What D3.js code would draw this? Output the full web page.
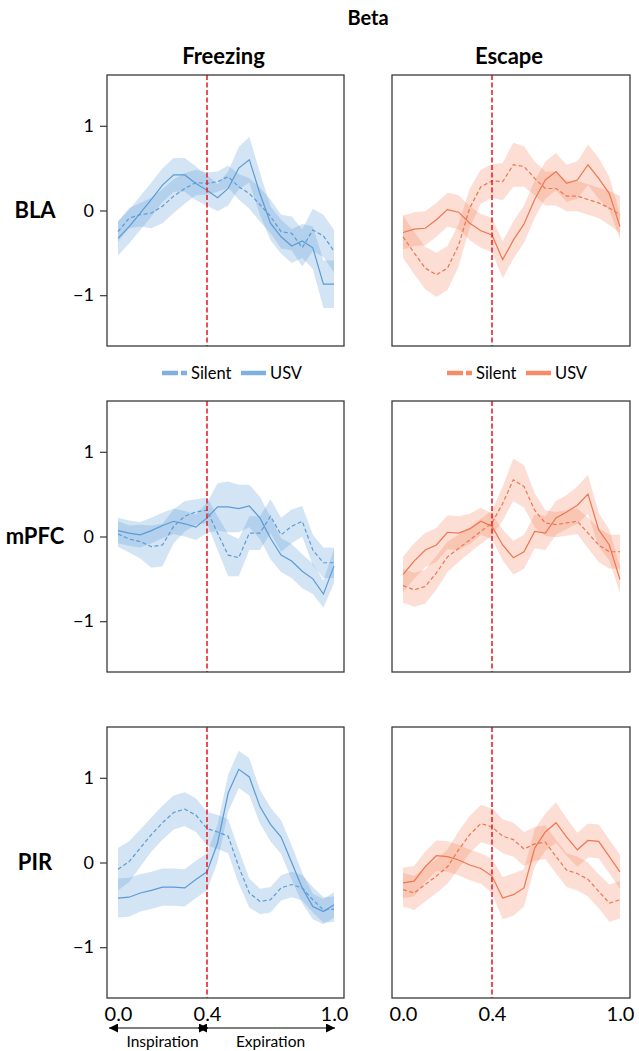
<!DOCTYPE html>
<html>
<head>
<meta charset="utf-8">
<script src="https://cdn.jsdelivr.net/npm/d3@7"></script>
<style>
  body { margin: 0; background: #fff; }
  text { font-family: Lato, "Open Sans", sans-serif; fill: #000; }
</style>
</head>
<body>
<div id="chart"></div>
<script>
// phase of the breathing cycle (0 = inspiration onset, 0.4 = expiration onset)
const phase = [0, 0.05, 0.1, 0.15, 0.2, 0.25, 0.3, 0.35, 0.4, 0.45, 0.5, 0.55, 0.6, 0.65, 0.7, 0.75, 0.8, 0.85, 0.9, 0.95, 1]
const regions = ['BLA', 'mPFC', 'PIR']
const behaviors = ['Freezing', 'Escape']
const groups = ['Silent', 'USV']
const xTicks = [0, 0.4, 1]
const yTicks = [-1, 0, 1]

// BLA
const blaFreezingSilent = [-0.25, -0.09, -0.05, -0.03, 0.05, 0.17, 0.26, 0.33, 0.32, 0.34, 0.40, 0.28, 0.20, 0.07, -0.07, -0.25, -0.27, -0.44, -0.23, -0.30, -0.48]
const blaFreezingSilentSem = [0.12, 0.12, 0.14, 0.18, 0.2, 0.2, 0.18, 0.15, 0.13, 0.12, 0.13, 0.15, 0.18, 0.2, 0.2, 0.2, 0.2, 0.22, 0.25, 0.25, 0.25]
const blaFreezingUsv = [-0.33, -0.19, -0.03, 0.13, 0.30, 0.42, 0.42, 0.32, 0.24, 0.15, 0.26, 0.50, 0.60, 0.20, -0.15, -0.31, -0.42, -0.36, -0.44, -0.87, -0.87]
const blaFreezingUsvSem = [0.2, 0.2, 0.2, 0.2, 0.2, 0.2, 0.2, 0.2, 0.18, 0.16, 0.2, 0.25, 0.27, 0.25, 0.2, 0.2, 0.2, 0.2, 0.25, 0.28, 0.28]
const blaEscapeSilent = [-0.31, -0.50, -0.68, -0.76, -0.68, -0.41, 0.03, 0.28, 0.35, 0.34, 0.54, 0.52, 0.38, 0.26, 0.26, 0.17, 0.17, 0.13, 0.09, 0.03, -0.05]
const blaEscapeSilentSem = [0.25, 0.25, 0.25, 0.26, 0.26, 0.25, 0.23, 0.2, 0.2, 0.22, 0.26, 0.24, 0.2, 0.2, 0.2, 0.18, 0.18, 0.18, 0.18, 0.2, 0.22]
const blaEscapeUsv = [-0.26, -0.22, -0.21, -0.11, 0.01, -0.02, -0.15, -0.24, -0.29, -0.58, -0.35, -0.16, 0.13, 0.36, 0.46, 0.32, 0.36, 0.54, 0.38, 0.20, -0.19]
const blaEscapeUsvSem = [0.2, 0.2, 0.2, 0.2, 0.2, 0.2, 0.2, 0.2, 0.2, 0.22, 0.22, 0.22, 0.22, 0.22, 0.22, 0.22, 0.22, 0.24, 0.24, 0.2, 0.15]

// mPFC
const mpfcFreezingSilent = [0.03, -0.03, -0.06, -0.12, -0.10, 0.12, 0.24, 0.29, 0.31, 0.04, -0.22, -0.25, 0.04, 0.04, 0.24, 0.02, 0.12, 0.18, -0.16, -0.31, -0.31]
const mpfcFreezingSilentSem = [0.15, 0.16, 0.2, 0.25, 0.25, 0.2, 0.18, 0.15, 0.15, 0.2, 0.25, 0.22, 0.2, 0.2, 0.2, 0.2, 0.2, 0.18, 0.18, 0.18, 0.18]
const mpfcFreezingUsv = [0.07, 0.04, 0.02, 0.07, 0.13, 0.18, 0.15, 0.11, 0.22, 0.35, 0.35, 0.33, 0.36, 0.22, -0.02, -0.22, -0.29, -0.41, -0.50, -0.68, -0.35]
const mpfcFreezingUsvSem = [0.15, 0.15, 0.15, 0.15, 0.15, 0.15, 0.15, 0.15, 0.18, 0.28, 0.3, 0.28, 0.25, 0.25, 0.25, 0.2, 0.2, 0.2, 0.18, 0.16, 0.2]
const mpfcEscapeSilent = [-0.58, -0.63, -0.59, -0.43, -0.24, -0.14, -0.04, 0.06, 0.16, 0.39, 0.67, 0.59, 0.31, 0.16, 0.14, 0.16, 0.18, 0.04, -0.10, -0.18, -0.18]
const mpfcEscapeSilentSem = [0.2, 0.2, 0.2, 0.2, 0.18, 0.16, 0.15, 0.15, 0.15, 0.2, 0.25, 0.25, 0.2, 0.15, 0.15, 0.15, 0.15, 0.18, 0.2, 0.2, 0.2]
const mpfcEscapeUsv = [-0.45, -0.29, -0.16, -0.10, 0.05, 0.04, 0.09, 0.18, 0.12, -0.10, -0.25, -0.18, 0.06, 0.04, 0.22, 0.29, 0.37, 0.50, 0.08, -0.10, -0.51]
const mpfcEscapeUsvSem = [0.21, 0.21, 0.2, 0.2, 0.2, 0.2, 0.18, 0.16, 0.15, 0.18, 0.2, 0.2, 0.2, 0.2, 0.2, 0.2, 0.22, 0.23, 0.2, 0.18, 0.16]

// PIR
const pirFreezingSilent = [-0.08, 0.01, 0.17, 0.33, 0.47, 0.59, 0.63, 0.56, 0.40, 0.36, 0.31, -0.05, -0.36, -0.46, -0.44, -0.30, -0.26, -0.30, -0.44, -0.56, -0.55]
const pirFreezingSilentSem = [0.25, 0.24, 0.22, 0.2, 0.2, 0.2, 0.2, 0.2, 0.2, 0.2, 0.2, 0.2, 0.17, 0.15, 0.15, 0.15, 0.15, 0.15, 0.15, 0.15, 0.15]
const pirFreezingUsv = [-0.42, -0.41, -0.36, -0.33, -0.29, -0.29, -0.30, -0.20, -0.11, 0.23, 0.82, 1.10, 1.01, 0.66, 0.45, 0.30, 0.00, -0.30, -0.52, -0.58, -0.50]
const pirFreezingUsvSem = [0.23, 0.23, 0.22, 0.22, 0.22, 0.22, 0.22, 0.22, 0.22, 0.22, 0.22, 0.22, 0.22, 0.2, 0.2, 0.2, 0.2, 0.18, 0.15, 0.15, 0.15]
const pirEscapeSilent = [-0.32, -0.36, -0.26, -0.16, -0.05, 0.15, 0.33, 0.46, 0.42, 0.31, 0.27, 0.16, 0.22, 0.24, 0.07, -0.09, -0.13, -0.20, -0.34, -0.48, -0.44]
const pirEscapeSilentSem = [0.2, 0.2, 0.2, 0.2, 0.2, 0.22, 0.22, 0.22, 0.22, 0.2, 0.2, 0.2, 0.2, 0.2, 0.2, 0.2, 0.2, 0.2, 0.2, 0.22, 0.22]
const pirEscapeUsv = [-0.24, -0.22, -0.05, 0.08, 0.07, 0.03, -0.03, -0.07, -0.16, -0.42, -0.38, -0.30, 0.17, 0.36, 0.47, 0.30, 0.15, 0.26, 0.25, 0.07, -0.11]
const pirEscapeUsvSem = [0.18, 0.18, 0.18, 0.18, 0.18, 0.18, 0.18, 0.18, 0.2, 0.25, 0.25, 0.22, 0.22, 0.22, 0.24, 0.22, 0.2, 0.2, 0.2, 0.2, 0.2]

const seriesTable = {
    BLA: {
        Freezing: [[blaFreezingSilent, blaFreezingSilentSem], [blaFreezingUsv, blaFreezingUsvSem]],
        Escape: [[blaEscapeSilent, blaEscapeSilentSem], [blaEscapeUsv, blaEscapeUsvSem]]
    },
    mPFC: {
        Freezing: [[mpfcFreezingSilent, mpfcFreezingSilentSem], [mpfcFreezingUsv, mpfcFreezingUsvSem]],
        Escape: [[mpfcEscapeSilent, mpfcEscapeSilentSem], [mpfcEscapeUsv, mpfcEscapeUsvSem]]
    },
    PIR: {
        Freezing: [[pirFreezingSilent, pirFreezingSilentSem], [pirFreezingUsv, pirFreezingUsvSem]],
        Escape: [[pirEscapeSilent, pirEscapeSilentSem], [pirEscapeUsv, pirEscapeUsvSem]]
    }
}

const colors = {
    Freezing: {line: '#5b9bd5', fill: '#5b9bd5', legend: '#7eb0e0'},
    Escape: {line: '#ef7650', fill: '#f4845f', legend: '#f58c66'}
}

const width = 639, height = 1051
const cols = [{left: 107, right: 344}, {left: 392, right: 630}]
const rowTops = [75, 401, 727]
const panelH = 271

const svg = d3.select('#chart').append('svg')
    .attr('width', width)
    .attr('height', height)

svg.append('defs').append('marker')
    .attr('id', 'arrowhead')
    .attr('viewBox', '0 0 10 10')
    .attr('refX', 10)
    .attr('refY', 5)
    .attr('markerWidth', 9)
    .attr('markerHeight', 9)
    .attr('markerUnits', 'userSpaceOnUse')
    .attr('orient', 'auto-start-reverse')
    .append('path')
    .attr('d', 'M0,0L10,5L0,10Z')
    .attr('fill', '#000')

svg.append('text')
    .attr('x', 368)
    .attr('y', 25)
    .attr('text-anchor', 'middle')
    .attr('font-size', 20)
    .attr('font-weight', 'bold')
    .text('Beta')

behaviors.forEach((beh, c) => {
    const col = cols[c]
    svg.append('text')
        .attr('x', (col.left + col.right) / 2 - 2)
        .attr('y', 64)
        .attr('text-anchor', 'middle')
        .attr('font-size', 22)
        .attr('font-weight', 'bold')
        .text(beh)
})

regions.forEach((reg, r) => {
    const top = rowTops[r]
    const y = d3.scaleLinear().domain([-1.6, 1.6]).range([top + panelH, top])

    svg.append('text')
        .attr('x', 35)
        .attr('y', y(0))
        .attr('dy', '0.35em')
        .attr('text-anchor', 'middle')
        .attr('font-size', 22)
        .attr('font-weight', 'bold')
        .text(reg)

    behaviors.forEach((beh, c) => {
        const col = cols[c]
        const x = d3.scaleLinear().domain([0, 0.4, 1]).range([col.left + 11, col.left + 100, col.right - 10])
        const g = svg.append('g')
        const [fillC, lineC] = [colors[beh].fill, colors[beh].line]

        const area = d3.area()
            .x((d, i) => x(phase[i]))
            .y0(d => y(d[0] - d[1]))
            .y1(d => y(d[0] + d[1]))
        const line = d3.line()
            .x((d, i) => x(phase[i]))
            .y(d => y(d))

        const series = seriesTable[reg][beh]
        series.forEach(([mean, sem]) => {
            g.append('path')
                .datum(mean.map((m, i) => [m, sem[i]]))
                .attr('d', area)
                .attr('fill', fillC)
                .attr('fill-opacity', 0.27)
        })
        series.forEach(([mean], k) => {
            g.append('path')
                .datum(mean)
                .attr('d', line)
                .attr('fill', 'none')
                .attr('stroke', lineC)
                .attr('stroke-width', 1.2)
                .attr('stroke-dasharray', groups[k] === 'Silent' ? '4,2.5' : null)
        })

        // expiration onset
        g.append('line')
            .attr('x1', x(0.4)).attr('x2', x(0.4))
            .attr('y1', top).attr('y2', top + panelH)
            .attr('stroke', '#e8242a')
            .attr('stroke-width', 1.6)
            .attr('stroke-dasharray', '5,2.5')

        g.append('rect')
            .attr('x', col.left).attr('y', top)
            .attr('width', col.right - col.left).attr('height', panelH)
            .attr('fill', 'none')
            .attr('stroke', '#3a3a3a')
            .attr('stroke-width', 1.3)

        if(c === 0) {
            const yAxis = d3.axisLeft(y).tickValues(yTicks).tickSize(7).tickFormat(d3.format('d'))
            const ax = svg.append('g')
                .attr('transform', `translate(${col.left},0)`)
                .call(yAxis)
            ax.select('.domain').remove()
            ax.selectAll('line').attr('stroke', '#3a3a3a').attr('stroke-width', 1.2)
            ax.selectAll('text').attr('font-size', 18).attr('font-family', 'Lato, sans-serif').attr('dx', '-3')
        }

        if(r === regions.length - 1) {
            const xAxis = d3.axisBottom(x).tickValues(xTicks).tickSize(0).tickFormat(d3.format('.1f'))
            const ax = svg.append('g')
                .attr('transform', `translate(0,${top + panelH})`)
                .call(xAxis)
            ax.select('.domain').remove()
            ax.selectAll('text').attr('font-size', 20).attr('font-family', 'Lato, sans-serif').attr('dy', '1em')

            if(c === 0) {
                const ay = top + panelH + 30
                const spans = [[0, 0.4, 'Inspiration'], [0.4, 1, 'Expiration']]
                spans.forEach(([a, b, label]) => {
                    svg.append('line')
                        .attr('x1', x(a) - 9).attr('x2', x(b) + 1)
                        .attr('y1', ay).attr('y2', ay)
                        .attr('stroke', '#000')
                        .attr('stroke-width', 1)
                        .attr('marker-start', 'url(#arrowhead)')
                        .attr('marker-end', 'url(#arrowhead)')
                    svg.append('text')
                        .attr('x', (x(a) + x(b)) / 2)
                        .attr('y', ay + 19)
                        .attr('text-anchor', 'middle')
                        .attr('font-size', 15.5)
                        .text(label)
                })
            }
        }
    })
})

// legends under the first row
behaviors.forEach((beh, c) => {
    const col = cols[c]
    const lg = svg.append('g')
        .attr('transform', `translate(${col.left + 55},373)`)
    groups.forEach((grp, k) => {
        const ox = k * 79
        lg.append('line')
            .attr('x1', ox).attr('x2', ox + 25)
            .attr('y1', 0).attr('y2', 0)
            .attr('stroke', colors[beh].legend)
            .attr('stroke-width', 4.5)
            .attr('stroke-dasharray', grp === 'Silent' ? '16,3,6,100' : null)
        lg.append('text')
            .attr('x', ox + 29)
            .attr('y', 0)
            .attr('dy', '0.35em')
            .attr('font-size', 16.5)
            .text(grp)
    })
})
</script>
</body>
</html>
